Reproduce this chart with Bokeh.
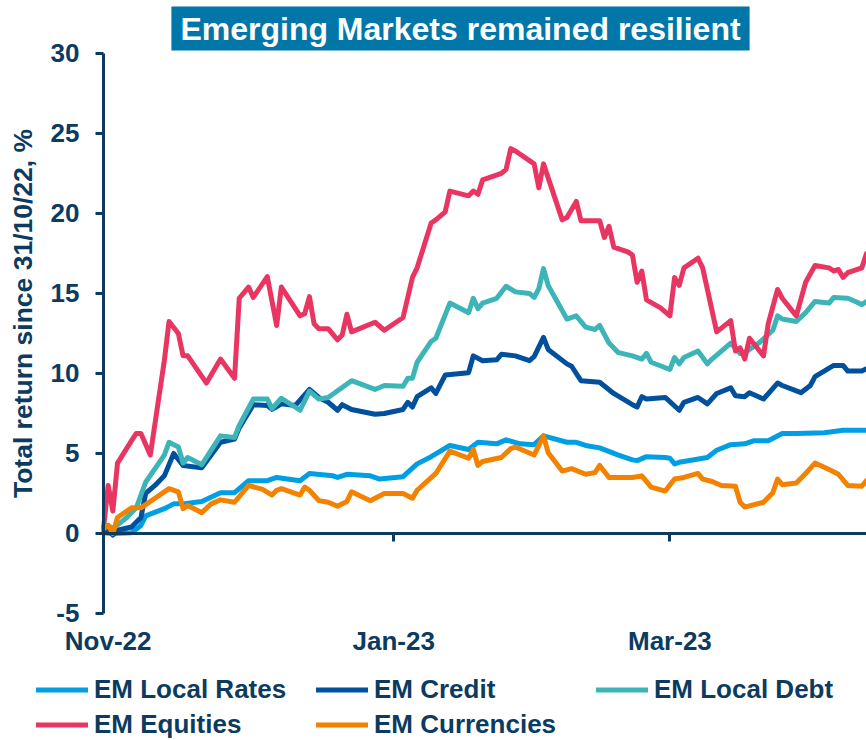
import pandas as pd
from bokeh.plotting import figure
from bokeh.models import (DatetimeAxis, LinearAxis, FixedTicker, DatetimeTickFormatter, Label,
                          Legend, LegendItem, Range1d)
from bokeh.embed import file_html
from bokeh.resources import INLINE

BASE_DATE = "2022-10-31"
tick_dates = ["2022-11-01", "2023-01-01", "2023-03-01"]
y_ticks = [-5, 0, 5, 10, 15, 20, 25, 30]
TITLE = "Emerging Markets remained resilient"
Y_LABEL = "Total return since 31/10/22, %"
series_names = ["EM Local Rates", "EM Credit", "EM Local Debt", "EM Equities", "EM Currencies"]
series_colors = ["#009FE3", "#00509E", "#3DB5B8", "#E83562", "#F28200"]

# days since 31/10/22 and total return, %
rates_days = [0, 2, 6, 8, 9, 13, 15, 17, 21, 25, 28, 31, 35, 37, 42, 44, 49, 50, 52, 57, 59, 64, 67, 70, 74,
              78, 80, 84, 86, 89, 92, 94, 99, 101, 103, 106, 110, 113, 114, 116, 120, 121, 122, 123, 129,
              131, 134, 137, 139, 142, 145, 148, 154, 158, 163]
rates = [0.05, 0.0, 0.05, 0.5, 1.1, 1.55, 1.85, 1.85, 2.0, 2.55, 2.55, 3.3, 3.3, 3.5, 3.3, 3.75, 3.6, 3.5, 3.7,
         3.6, 3.4, 3.55, 4.35, 4.8, 5.5, 5.25, 5.7, 5.6, 5.85, 5.6, 5.55, 6.1, 5.7, 5.7, 5.5, 5.35, 4.9, 4.6,
         4.55, 4.8, 4.75, 4.7, 4.35, 4.45, 4.75, 5.2, 5.55, 5.6, 5.8, 5.8, 6.25, 6.25, 6.3, 6.45, 6.45]

credit_days = [0, 1, 2, 3, 6, 8, 9, 11, 13, 15, 17, 21, 25, 28, 29, 32, 35, 36, 38, 41, 44, 46, 48, 50, 51,
               53, 58, 60, 64, 65, 66, 67, 70, 71, 73, 78, 79, 81, 84, 85, 88, 91, 92, 94, 95, 99, 100, 102,
               106, 109, 113, 114, 115, 116, 120, 123, 124, 127, 129, 131, 134, 135, 137, 138, 141, 144,
               145, 149, 151, 152, 156, 158, 159, 162, 163]
credit = [0.3, 0.2, -0.1, 0.2, 0.4, 1.0, 2.5, 3.0, 3.6, 5.0, 4.25, 4.1, 5.7, 5.9, 6.6, 8.05, 8.0, 7.75, 8.1,
          8.0, 9.0, 8.5, 8.2, 7.7, 8.05, 7.75, 7.45, 7.5, 7.75, 8.2, 7.9, 8.55, 9.1, 8.75, 9.9, 10.05, 11.1,
          10.8, 10.85, 11.2, 11.1, 10.8, 11.05, 12.25, 11.5, 10.6, 10.45, 9.55, 9.45, 8.75, 8.05, 7.9, 8.55,
          8.4, 8.5, 7.7, 8.2, 8.5, 8.1, 8.75, 9.1, 8.6, 8.55, 8.8, 8.4, 9.4, 9.25, 8.8, 9.25, 9.8, 10.5,
          10.5, 10.15, 10.15, 10.3]

debt_days = [0, 1, 2, 5, 7, 9, 13, 14, 16, 17, 18, 21, 25, 28, 29, 32, 35, 36, 38, 42, 44, 46, 48, 53, 58,
             60, 64, 65, 66, 67, 70, 71, 74, 78, 79, 80, 81, 84, 86, 88, 91, 92, 93, 94, 95, 99, 101, 103,
             105, 106, 108, 110, 113, 115, 116, 117, 121, 122, 123, 124, 127, 129, 130, 134, 136, 137, 140,
             143, 144, 145, 148, 150, 152, 155, 156, 159, 161, 162, 163]
debt = [0.4, 0.5, 0.3, 1.0, 1.6, 3.2, 4.9, 5.7, 5.4, 4.4, 4.75, 4.3, 6.1, 6.0, 6.75, 8.4, 8.4, 7.8, 8.45, 7.7,
        8.9, 8.4, 8.5, 9.55, 9.0, 9.25, 9.2, 9.7, 9.7, 10.7, 12.0, 12.2, 14.4, 13.8, 14.7, 14.05, 14.4, 14.7,
        15.45, 15.1, 15.0, 14.75, 15.3, 16.55, 15.5, 13.4, 13.6, 12.9, 12.75, 13.0, 11.9, 11.3, 11.1, 10.9,
        11.25, 10.7, 10.25, 11.0, 10.6, 11.0, 11.4, 10.6, 10.9, 11.9, 11.25, 11.3, 11.9, 12.7, 13.6, 13.4,
        13.25, 13.8, 14.5, 14.4, 14.75, 14.7, 14.45, 14.3, 14.5]

equities_days = [0, 1, 2, 3, 6, 7, 8, 10, 13, 14, 16, 17, 18, 22, 25, 28, 29, 31, 32, 35, 37, 38, 42, 43, 44,
                 45, 46, 48, 50, 51, 52, 53, 58, 60, 64, 66, 67, 70, 71, 73, 74, 78, 79, 80, 81, 85, 86, 87,
                 88, 92, 93, 94, 98, 99, 101, 102, 106, 107, 108, 109, 112, 113, 114, 115, 116, 119, 121,
                 122, 123, 124, 127, 128, 131, 134, 135, 136, 137, 138, 141, 142, 144, 145, 148, 150, 152,
                 155, 156, 157, 158, 159, 162, 163]
equities = [0.3, 3.0, 1.4, 4.4, 5.8, 6.25, 6.25, 4.9, 10.8, 13.25, 12.5, 11.1, 11.1, 9.4, 10.9, 9.7, 14.7,
            15.4, 14.75, 16.05, 13.0, 15.4, 13.6, 13.75, 14.8, 13.1, 12.8, 12.8, 12.1, 12.4, 13.7, 12.6, 13.2,
            12.7, 13.5, 16.0, 16.6, 19.4, 19.6, 20.1, 21.4, 21.1, 21.4, 21.2, 22.1, 22.5, 22.75, 24.05, 23.9,
            23.1, 21.6, 23.1, 19.6, 19.75, 20.75, 19.55, 19.55, 18.5, 19.2, 17.9, 17.6, 17.4, 15.7, 16.4,
            14.6, 14.1, 13.6, 16.0, 15.5, 16.6, 17.2, 16.6, 12.6, 13.3, 11.4, 11.6, 10.9, 12.2, 11.1, 13.1,
            15.25, 14.7, 13.6, 15.7, 16.75, 16.6, 16.4, 16.5, 16.0, 16.3, 16.6, 17.5]

currency_days = [0, 1, 2, 3, 6, 8, 11, 14, 16, 17, 18, 21, 23, 25, 28, 31, 34, 36, 37, 38, 42, 43, 44, 46, 48,
                 50, 52, 53, 57, 60, 64, 66, 67, 71, 74, 78, 79, 80, 81, 85, 87, 88, 92, 94, 95, 98, 100,
                 103, 105, 106, 108, 113, 115, 117, 120, 122, 124, 127, 128, 130, 132, 135, 136, 137, 141,
                 143, 144, 145, 148, 150, 152, 155, 157, 159, 162, 163]
currency = [0.3, 0.5, 0.0, 1.0, 1.6, 1.6, 2.2, 2.8, 2.6, 1.55, 1.75, 1.3, 1.85, 2.1, 1.95, 3.0, 2.75, 2.4,
            2.7, 2.8, 2.4, 2.9, 2.7, 2.05, 1.95, 1.7, 2.0, 2.6, 2.05, 2.5, 2.5, 2.2, 2.7, 3.75, 5.15, 4.7,
            5.25, 4.25, 4.5, 4.75, 5.3, 5.4, 4.9, 6.1, 5.05, 3.9, 4.05, 3.7, 3.8, 4.25, 3.5, 3.5, 3.6, 2.9,
            2.65, 3.4, 3.5, 3.75, 3.4, 3.25, 3.0, 2.95, 1.95, 1.65, 1.95, 2.55, 3.4, 3.05, 3.15, 3.75, 4.4,
            4.0, 3.7, 3.0, 2.95, 3.3]

# visible window (the whole canvas is the plot frame; axes are drawn at fixed positions inside it)
X_START_DAYS = -22.0
X_END_DAYS = 163.0
Y_LOW, Y_HIGH = -12.94, 33.31
Y_AXIS_MIN, Y_AXIS_MAX = -5, 30

NAVY = "#0C3B5F"
FONT = "Liberation Sans"

base = pd.Timestamp(BASE_DATE)


def to_dates(days):
    return [base + pd.Timedelta(days=d) for d in days]


def ms(ts):
    return pd.Timestamp(ts).value / 1e6


tick_ms = [ms(d) for d in tick_dates]
base_ms = ms(base)
end_ms = ms(base + pd.Timedelta(days=X_END_DAYS))

p = figure(width=866, height=740, x_axis_type="datetime", output_backend="svg", toolbar_location=None,
           x_range=Range1d(base + pd.Timedelta(days=X_START_DAYS), base + pd.Timedelta(days=X_END_DAYS)),
           y_range=Range1d(Y_LOW, Y_HIGH), x_axis_location=None, y_axis_location=None,
           min_border=0, min_border_left=0, min_border_right=0, min_border_top=0, min_border_bottom=0)
p.outline_line_color = None
p.grid.visible = False
p.background_fill_color = "white"

# x labels (axis pinned to the bottom of the value scale, line hidden)
xa = DatetimeAxis(ticker=FixedTicker(ticks=tick_ms), fixed_location=Y_AXIS_MIN,
                  formatter=DatetimeTickFormatter(days="%b-%y", months="%b-%y", years="%b-%y", hours="%b-%y"))
xa.axis_line_color = None
xa.major_tick_line_color = None
xa.minor_tick_line_color = None
xa.major_tick_out = 0
xa.major_tick_in = 0
xa.major_label_standoff = 13
xa.major_label_text_font = FONT
xa.major_label_text_font_style = "bold"
xa.major_label_text_font_size = "26px"
xa.major_label_text_color = NAVY
p.add_layout(xa, "below")

# zero line with month ticks
za = DatetimeAxis(ticker=FixedTicker(ticks=tick_ms[1:]), fixed_location=0, bounds=(base_ms, end_ms))
za.axis_line_color = NAVY
za.axis_line_width = 3
za.major_tick_line_color = NAVY
za.major_tick_line_width = 3
za.major_tick_out = 8
za.major_tick_in = 0
za.minor_tick_line_color = None
za.major_label_text_color = None
za.major_label_text_font_size = "0px"
za.major_label_standoff = 0
p.add_layout(za, "below")

ya = LinearAxis(ticker=FixedTicker(ticks=y_ticks), fixed_location=base_ms, bounds=(Y_AXIS_MIN, Y_AXIS_MAX))
ya.major_label_overrides = {-5: "-5"}
ya.axis_line_color = NAVY
ya.axis_line_width = 3
ya.major_tick_line_color = NAVY
ya.major_tick_line_width = 3
ya.major_tick_out = 8
ya.major_tick_in = 0
ya.minor_tick_line_color = None
ya.major_label_standoff = 16
ya.major_label_text_font = FONT
ya.major_label_text_font_style = "bold"
ya.major_label_text_font_size = "26px"
ya.major_label_text_color = NAVY
p.add_layout(ya, "left")

all_days = [rates_days, credit_days, debt_days, equities_days, currency_days]
all_vals = [rates, credit, debt, equities, currency]
items = []
for name, color, dd, vv in zip(series_names, series_colors, all_days, all_vals):
    r = p.line(to_dates(dd), vv, line_color=color, line_width=5, line_join="round", line_cap="round")
    items.append(LegendItem(label=name, renderers=[r]))

legend = Legend(items=items, location=(36, 0), orientation="horizontal", nrows=2, ncols=3,
                glyph_width=52, glyph_height=31, label_standoff=6, spacing=4, padding=0, margin=0,
                border_line_color=None, background_fill_color=None, background_fill_alpha=0,
                label_text_font=FONT, label_text_font_style="bold", label_text_font_size="26px",
                label_text_color=NAVY, label_height=31, label_width=218)
p.add_layout(legend)

title = Label(x=460, y=712, x_units="screen", y_units="screen", text=TITLE, text_align="center",
              text_baseline="middle", text_font=FONT, text_font_style="bold", text_font_size="32px",
              text_color="white", background_fill_color="#0077A8",
              padding=dict(left=9, right=9, top=4, bottom=4))
p.add_layout(title)

ylab = Label(x=22, y=427, x_units="screen", y_units="screen", text=Y_LABEL, angle=90, angle_units="deg",
             text_align="center", text_baseline="middle", text_font=FONT, text_font_style="bold",
             text_font_size="26.5px", text_color=NAVY)
p.add_layout(ylab)

open("out.html", "w").write(file_html(p, INLINE))
